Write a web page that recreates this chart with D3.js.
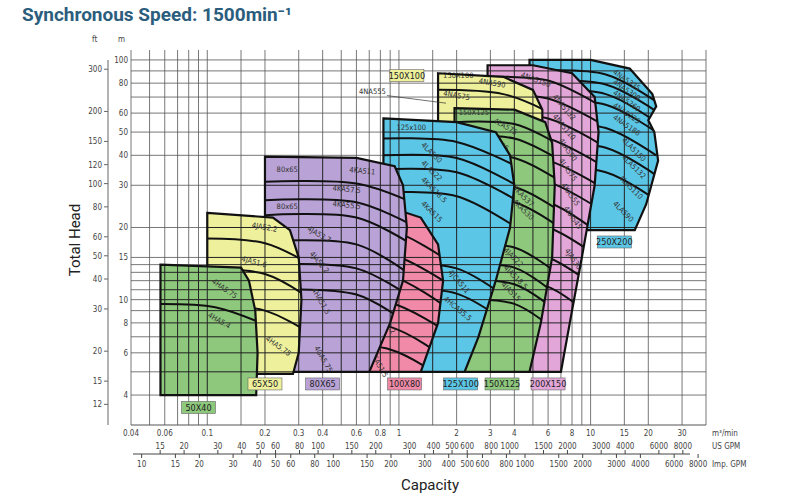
<!DOCTYPE html>
<html><head><meta charset="utf-8">
<script src="https://cdn.jsdelivr.net/npm/d3@7"></script>
<style>body{margin:0;background:#fff}svg{display:block}</style>
</head><body><svg id="c" width="797" height="497"></svg>
<script>
// ---- data (Q in m3/min, H in m) ----
const qTickLabels=[0.04,0.06,0.1,0.2,0.3,0.4,0.6,0.8,1,2,3,4,6,8,10,15,20,30];
const qGrid=[0.04,0.05,0.06,0.07,0.08,0.09,0.1,0.15,0.2,0.3,0.4,0.5,0.6,0.7,0.8,0.9,1,1.5,2,3,4,5,6,7,8,9,10,15,20,30,40];
const hGrid=[4,5,6,7,8,9,10,11,12,13,14,15,20,30,40,50,60,70,80,90,100];
const mLabels=[100,80,60,50,40,30,20,15,10,8,6,4];
const ftLabels=[300,200,150,120,100,80,60,50,40,30,20,15,12];
const usGpm=[15,20,30,40,50,60,80,100,150,200,300,400,500,600,800,1000,1500,2000,3000,4000,6000,8000];
const impGpm=[10,15,20,30,40,50,60,80,100,150,200,300,400,500,600,800,1000,1500,2000,3000,4000,6000,8000];
const sizes=["65X50","50X40","80X65","100X80","125X100","150X100","150X125","200X150","250X200"];
const colors=["#eef09c","#8dc87c","#b9a2d6","#f08aa8","#5cc6e6","#eef09c","#8dc87c","#e2a6d8","#5cc6e6"];
const drawOrder=[8,7,5,6,4,3,2,0,1];
const outlines=[
 [[0.1,23],[0.22,22],[0.27,19.5],[0.3,15],[0.31,10],[0.3,6],[0.28,4.9],[0.1,4.9]],
 [[0.057,14],[0.15,13.6],[0.165,12],[0.178,9],[0.183,6],[0.18,4],[0.057,4]],
 [[0.2,39.5],[0.6,39],[0.95,36],[1.05,30],[1.1,20],[1.05,12],[0.9,8],[0.7,5],[0.2,5]],
 [[0.32,25],[0.8,25],[1.3,22],[1.6,17],[1.7,12],[1.6,8],[1.3,5],[0.32,5]],
 [[0.83,57],[2,55],[3.2,50],[3.8,40],[4,30],[3.8,20],[3.2,12],[2.6,7],[2.2,5],[0.83,5]],
 [[1.6,88],[3.5,85],[5,75],[5.6,62],[5.6,50],[1.6,50]],
 [[1.95,63],[4,62],[5.8,55],[6.3,45],[6.5,30],[6.3,15],[5.5,8],[4.8,5],[1.95,5]],
 [[2.9,95],[5,95],[8,88],[10.5,70],[11,50],[10.5,30],[9,15],[8,9],[7,5],[2.9,5]],
 [[4.8,100],[10,100],[16,92],[21,72],[22,64],[20,56],[21.5,50],[22.5,38],[19.5,25],[17,19.5],[4.8,19.5]]
];
const impellers=[
 [[[0.1,18],[0.2,17.2],[0.32,14.5]],[[0.1,13.5],[0.2,12.8],[0.32,10.5]],[[0.1,9.5],[0.2,9],[0.32,7.5]]],
 [[[0.057,9.6],[0.11,9.3],[0.19,8]]],
 [[[0.2,31],[0.6,30.5],[1.1,26]],[[0.2,26],[0.6,25.5],[1.1,21]],[[0.2,22.5],[0.6,22],[1.1,17.5]],[[0.2,17.5],[0.6,17],[1.1,13]],[[0.2,14],[0.6,13.5],[1.1,10.5]],[[0.2,11],[0.6,10.5],[1.1,8]]],
 [[[0.32,20],[0.9,19.5],[1.7,15]],[[0.32,16],[0.9,15.5],[1.7,12]],[[0.32,13],[0.9,12.6],[1.7,9.5]],[[0.32,10],[0.9,9.7],[1.7,7.5]],[[0.32,8],[0.9,7.7],[1.7,5.8]],[[0.32,6.5],[0.9,6.2],[1.7,4.7]]],
 [[[0.83,47],[2,45.5],[4.1,36]],[[0.83,40],[2,39],[4.1,30]],[[0.83,35],[2,34],[4.1,26]],[[0.83,28],[2,27],[4.1,20]],[[0.83,14],[2,13.5],[4.1,9.5]],[[0.83,11],[2,10.6],[4.1,7.5]]],
 [[[1.6,75],[3.5,72],[5.7,62]]],
 [[[1.95,55],[4,54],[6.6,45]],[[1.95,48],[4,47],[6.6,39]],[[1.95,40],[4,39],[6.6,32]],[[1.95,30],[4,29.5],[6.6,24]],[[1.95,26],[4,25.5],[6.6,20.5]],[[1.95,17],[4,16.5],[6.6,13]],[[1.95,14],[4,13.6],[6.6,10.5]],[[1.95,12],[4,11.6],[6.6,9]],[[1.95,10],[4,9.6],[6.6,7.4]]],
 [[[2.9,85],[6,82],[11,65]],[[2.9,72],[6,69],[11,55]],[[2.9,60],[6,57],[11,45]],[[2.9,50],[6,47],[11,37]],[[2.9,40],[6,38],[11,30]],[[2.9,33],[6,31],[11,24]],[[2.9,27],[6,25.5],[11,19]],[[2.9,21],[6,20],[11,15]],[[2.9,16],[6,15],[11,11]],[[2.9,12],[6,11.3],[11,8]]],
 [[[4.8,90],[12,87],[22,67]],[[4.8,82],[12,79],[22,61]],[[4.8,75],[12,72],[22,55]],[[4.8,68],[12,65],[22,50]],[[4.8,55],[12,52],[22,40]],[[4.8,45],[12,43],[22,33]],[[4.8,36],[12,34],[22,26]]]
];
const curveLabels=[
 ["4HA5.75",0.105,11.8,-35,1],["4HA5.4",0.1,8.5,-30,1],["4HA5.75",0.2,6.8,-35,0],
 ["4JA52.2",0.17,20,-10,0],["4JA51.6",0.15,14.5,-15,0],
 ["80x65",0.23,34,0,2],["4KA511",0.55,34,-5,2],["4KA57.5",0.45,28.5,-5,2],["4KA55.5",0.45,24.5,-5,2],["80x65",0.23,24,0,2],
 ["4JA53.7",0.33,19.5,-30,2],["4JA52.2",0.34,15.5,-50,2],["4HA51.5",0.35,11,-60,2],["4GA5.75",0.36,6.3,-60,2],
 ["100x80",0.56,21.5,-10,3],["4JA55.5",0.8,19.5,-15,3],["4JA53.7",0.8,15.5,-55,3],["4HA53.7",0.6,12,-50,3],["4HA52.2",0.75,9,-55,3],["4GA51.5",0.7,6,-60,3],
 ["125x100",0.97,51,0,4],["4LA530",1.3,44,-45,4],["4LA522",1.3,37,-45,4],["4KA518.5",1.3,31.5,-45,4],["4KA515",1.3,25,-45,4],["4JCA511",1.8,13,-50,4],["4HCA55.5",1.7,10,-40,4],
 ["150X100",1.7,84,0,5],["4NA590",2.6,80,-10,5],["4NA575",1.7,71,-10,5],["150X125",2.05,59,0,6],["4LA575",3.1,55,-30,6],["4LA555",2.8,47,-30,6],["4LA545",2.8,40,-30,6],
 ["4KA537",3.9,29,-45,6],["4KA530",3.9,25.5,-45,6],["4JA522",3.5,16,-45,6],["4JA518.5",3.5,13.5,-45,6],["4JA515",3.4,11.5,-45,6],
 ["4NA5150",4.3,85,-20,7],["4NA5132",6.3,70,-50,7],["4NA5110",6.3,58,-50,7],["4LA590",6.8,46,-55,7],["4LA575",6.8,38,-55,7],["4KA555",7,30,-55,7],["4KA545",7.2,24,-55,7],["4JA530",7.3,16,-55,7],
 ["4NA5335",13,88,-35,8],["4NA5300",13,80,-35,8],["4NA5260",13,72,-35,8],["4NA5225",13,64,-35,8],["4NA5186",13,57,-35,8],["4LA5150",14.5,46,-45,8],["4LA5132",14.5,39,-45,8],["4LA5110",14,32,-45,8],["4LA590",13,25,-45,8]
];
const boxAnchors=[[0.2,4.45],[0.09,3.55],[0.4,4.45],[1.07,4.45],[2.1,4.45],[1.1,86],[3.45,4.45],[6.0,4.45],[13.3,17.4]];

// ---- drawing ----
const svg=d3.select("#c");
const x=d3.scaleLog().domain([0.04,40]).range([131,706]);
const y=d3.scaleLog().domain([3.0,110]).range([425,50]);
const FONT="'Liberation Sans Narrow','DejaVu Sans Condensed','Liberation Sans',sans-serif";
const line=d3.line().x(d=>x(d[0])).y(d=>y(d[1])).curve(d3.curveCatmullRom);
const poly=d3.line().x(d=>x(d[0])).y(d=>y(d[1])).curve(d3.curveLinearClosed);

svg.append("text").attr("x",22).attr("y",21).attr("font-family","Roboto,'Open Sans',sans-serif").attr("font-weight",700)
 .attr("font-size",19).attr("fill","#2b5d7d").text("Synchronous Speed: 1500min⁻¹");

const grid=svg.append("g").attr("stroke","#555").attr("stroke-width",0.8);
grid.selectAll(".v").data(qGrid).join("line").attr("x1",d=>x(d)).attr("x2",d=>x(d)).attr("y1",50).attr("y2",425);
grid.selectAll(".h").data(hGrid).join("line").attr("y1",d=>y(d)).attr("y2",d=>y(d)).attr("x1",131).attr("x2",706);
svg.append("line").attr("x1",131).attr("x2",706).attr("y1",425).attr("y2",425).attr("stroke","#555");

// regions (rightmost first so left regions sit on top)
const defs=svg.append("defs");
drawOrder.forEach(i=>{
  defs.append("clipPath").attr("id","cp"+i).append("path").attr("d",poly(outlines[i]));
  const g=svg.append("g");
  g.append("path").attr("d",poly(outlines[i])).attr("fill",colors[i]);
  const cg=g.append("g").attr("clip-path","url(#cp"+i+")");
  cg.selectAll("line.v").data(qGrid).join("line").attr("x1",d=>x(d)).attr("x2",d=>x(d)).attr("y1",50).attr("y2",425).attr("stroke","#222").attr("stroke-width",1);
  cg.selectAll("line.h").data(hGrid).join("line").attr("y1",d=>y(d)).attr("y2",d=>y(d)).attr("x1",131).attr("x2",706).attr("stroke","#222").attr("stroke-width",1);
  cg.selectAll("path.imp").data(impellers[i]).join("path").attr("d",line).attr("fill","none").attr("stroke","#111").attr("stroke-width",2);
  g.selectAll("text.cl").data(curveLabels.filter(l=>l[4]===i)).join("text").attr("font-family",FONT).attr("font-size",7.5).attr("fill","#333")
   .attr("transform",d=>`translate(${x(d[1])},${y(d[2])}) rotate(${-d[3]})`).text(d=>d[0]);
  g.append("path").attr("d",poly(outlines[i])).attr("fill","none").attr("stroke","#111").attr("stroke-width",2.2);
});
svg.append("text").attr("x",x(1.0)-40).attr("y",y(72)).attr("font-family",FONT).attr("font-size",7.5).attr("fill","#333").text("4NA555");
svg.append("line").attr("x1",x(1.0)-12).attr("y1",y(71)).attr("x2",x(1.6)+8).attr("y2",y(66)).attr("stroke","#333").attr("stroke-width",0.7);

// size boxes
sizes.forEach((s,i)=>{
  const cx=x(boxAnchors[i][0]),cy=y(boxAnchors[i][1]);
  svg.append("rect").attr("x",cx-17).attr("y",cy-6).attr("width",34).attr("height",12).attr("fill",colors[i]).attr("stroke","#666").attr("stroke-width",0.6);
  svg.append("text").attr("x",cx).attr("y",cy+3.5).attr("text-anchor","middle").attr("font-family",FONT).attr("font-size",9).attr("fill","#222").text(s);
});

// left axes
svg.selectAll("text.m").data(mLabels).join("text").attr("x",128).attr("y",d=>y(d)+3).attr("text-anchor","end")
 .attr("font-family",FONT).attr("font-size",8).attr("fill","#444").text(d=>d);
svg.append("line").attr("x1",108).attr("x2",108).attr("y1",60).attr("y2",425).attr("stroke","#666");
svg.selectAll("line.ft").data(ftLabels).join("line").attr("x1",104).attr("x2",108).attr("y1",d=>y(d/3.2808)).attr("y2",d=>y(d/3.2808)).attr("stroke","#666");
svg.selectAll("text.ft").data(ftLabels).join("text").attr("x",102).attr("y",d=>y(d/3.2808)+3).attr("text-anchor","end")
 .attr("font-family",FONT).attr("font-size",8).attr("fill","#444").text(d=>d);
svg.append("text").attr("x",92).attr("y",42).attr("font-family",FONT).attr("font-size",8).attr("fill","#444").text("ft");
svg.append("text").attr("x",118).attr("y",42).attr("font-family",FONT).attr("font-size",8).attr("fill","#444").text("m");
svg.append("text").attr("transform","translate(80,240) rotate(-90)").attr("text-anchor","middle").attr("font-family","Roboto,sans-serif").attr("font-size",15).attr("fill","#222").text("Total Head");

// bottom axes
svg.selectAll("text.q").data(qTickLabels).join("text").attr("x",d=>x(d)).attr("y",436).attr("text-anchor","middle")
 .attr("font-family",FONT).attr("font-size",8).attr("fill","#444").text(d=>d);
svg.append("line").attr("x1",133).attr("x2",690).attr("y1",454).attr("y2",454).attr("stroke","#444");
svg.selectAll("line.us").data(usGpm).join("line").attr("x1",d=>x(d/264.17)).attr("x2",d=>x(d/264.17)).attr("y1",450).attr("y2",454).attr("stroke","#444");
svg.selectAll("text.us").data(usGpm).join("text").attr("x",d=>x(d/264.17)).attr("y",449).attr("text-anchor","middle")
 .attr("font-family",FONT).attr("font-size",8).attr("fill","#444").text(d=>d);
svg.selectAll("line.imp").data(impGpm).join("line").attr("x1",d=>x(d/219.97)).attr("x2",d=>x(d/219.97)).attr("y1",454).attr("y2",458).attr("stroke","#444");
svg.selectAll("text.impt").data(impGpm).join("text").attr("x",d=>x(d/219.97)).attr("y",467).attr("text-anchor","middle")
 .attr("font-family",FONT).attr("font-size",8).attr("fill","#444").text(d=>d);
[["m³/min",436],["US GPM",449],["Imp. GPM",467]].forEach(t=>svg.append("text").attr("x",712).attr("y",t[1]).attr("font-family",FONT).attr("font-size",8).attr("fill","#444").text(t[0]));
svg.append("text").attr("x",430).attr("y",490).attr("text-anchor","middle").attr("font-family","Roboto,sans-serif").attr("font-size",15).attr("fill","#222").text("Capacity");
</script></body></html>
